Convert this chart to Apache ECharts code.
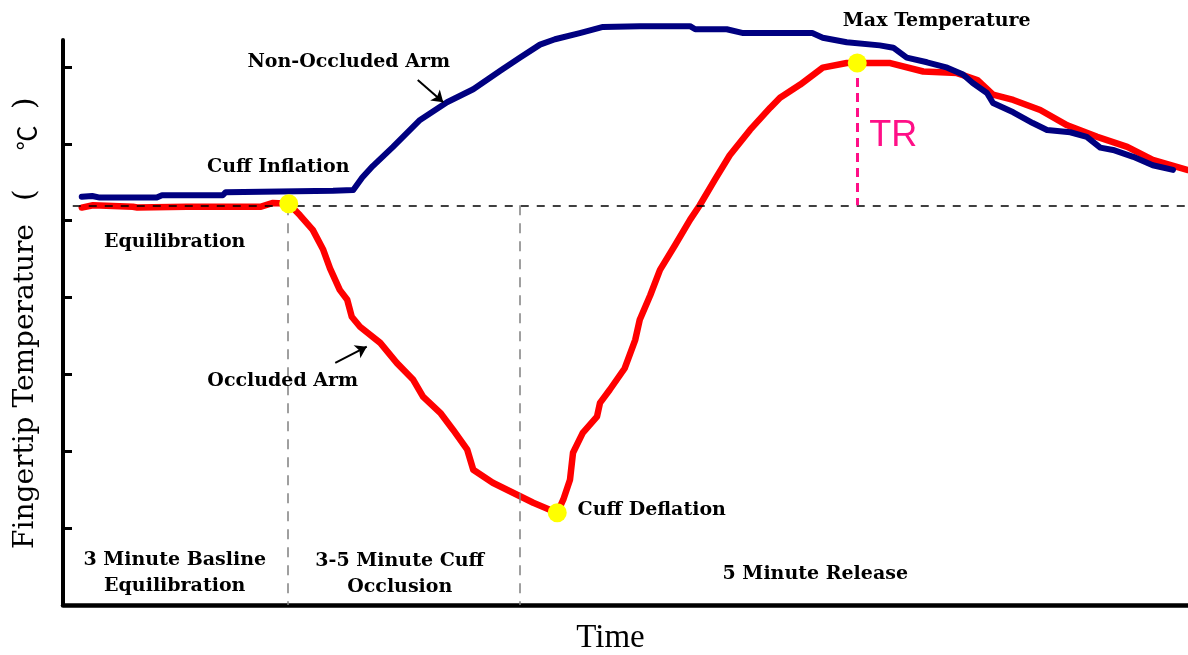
<!DOCTYPE html>
<html>
<head>
<meta charset="utf-8">
<script src="https://cdn.jsdelivr.net/npm/echarts@6.0.0/dist/echarts.min.js"></script>
<style>
  html, body { margin: 0; padding: 0; background: #fff; }
  #chart { width: 1188px; height: 655px; }
</style>
</head>
<body>
<div id="chart"></div>
<script>
// Fingertip temperature over time, [time, temperature] in relative units.
const nonOccludedArm = [
  [0.25,5.31],[0.39,5.32],[0.49,5.30],[1.25,5.30],[1.32,5.33],[2.13,5.33],[2.17,5.37],
  [3.60,5.39],[3.87,5.40],[3.99,5.56],[4.13,5.71],[4.40,5.96],[4.76,6.31],[5.12,6.54],
  [5.47,6.71],[5.83,6.95],[6.09,7.12],[6.36,7.29],[6.56,7.36],[6.89,7.44],[7.20,7.52],
  [7.69,7.53],[8.36,7.53],[8.43,7.49],[8.85,7.49],[9.07,7.44],[9.99,7.44],[10.13,7.38],
  [10.45,7.32],[10.89,7.28],[11.07,7.25],[11.25,7.12],[11.52,7.06],[11.79,6.99],[12.00,6.90],
  [12.13,6.79],[12.32,6.66],[12.40,6.53],[12.67,6.41],[12.93,6.27],[13.12,6.18],[13.43,6.15],
  [13.65,6.09],[13.83,5.95],[14.00,5.92],[14.27,5.83],[14.53,5.72],[14.80,5.66]
];

const occludedArm = [
  [0.25,5.17],[0.40,5.20],[0.93,5.18],[0.99,5.17],[1.65,5.18],[2.63,5.18],[2.80,5.23],
  [3.01,5.22],[3.16,5.07],[3.33,4.88],[3.47,4.62],[3.56,4.38],[3.69,4.10],[3.79,3.97],
  [3.85,3.75],[3.96,3.62],[4.23,3.41],[4.45,3.15],[4.67,2.93],[4.80,2.71],[5.03,2.50],
  [5.20,2.28],[5.39,2.02],[5.47,1.76],[5.73,1.59],[6.00,1.46],[6.27,1.33],[6.49,1.24],
  [6.59,1.20],[6.67,1.37],[6.76,1.63],[6.80,1.98],[6.93,2.24],[7.12,2.45],[7.16,2.63],
  [7.29,2.80],[7.49,3.08],[7.63,3.45],[7.69,3.71],[7.83,4.03],[7.96,4.36],[8.16,4.68],
  [8.36,5.01],[8.49,5.20],[8.69,5.53],[8.89,5.85],[9.16,6.18],[9.43,6.47],[9.56,6.60],
  [9.83,6.77],[10.13,6.99],[10.45,7.05],[10.59,7.05],[11.03,7.05],[11.47,6.94],[11.92,6.92],
  [12.19,6.83],[12.40,6.64],[12.67,6.57],[13.03,6.44],[13.39,6.24],[13.79,6.09],[14.19,5.96],
  [14.53,5.79],[14.99,5.66]
];

// Event indices on the occluded-arm trace
const cuffInflationIdx = 7;
const cuffDeflationIdx = 28;
const maxTemperatureIdx = 52;

const baselineTemp = 5.2;            // equilibrium temperature
const phaseBoundaries = [3.0, 6.09]; // end of baseline, end of occlusion
const timeRange = [0, 15];
const tempRange = [0, 7.35];
const tempTicks = [1, 2, 3, 4, 5, 6, 7];

// Text callouts anchored in chart coordinates
const callouts = [
  { text: 'Non-Occluded Arm', at: [3.81, 7.06] },
  { text: 'Cuff Inflation', at: [2.87, 5.70] },
  { text: 'Equilibration', at: [1.49, 4.72] },
  { text: 'Occluded Arm', at: [2.93, 2.91] },
  { text: 'Cuff Deflation', at: [7.85, 1.24] },
  { text: 'Max Temperature', at: [11.65, 7.60] },
  { text: '3 Minute Basline\nEquilibration', at: [1.49, 0.42] },
  { text: '3-5 Minute Cuff\nOcclusion', at: [4.49, 0.40] },
  { text: '5 Minute Release', at: [10.03, 0.40] }
];
const trLabel = { text: 'TR', at: [11.07, 6.10] };

// Pointer arrows: [from, to]
const arrows = [
  [[4.73, 6.83], [5.07, 6.54]],
  [[3.63, 3.15], [4.05, 3.36]]
];

const keyPoints = [cuffInflationIdx, cuffDeflationIdx, maxTemperatureIdx].map(i => occludedArm[i]);
const peak = occludedArm[maxTemperatureIdx];

const serifBold = {
  fontFamily: 'DejaVu Serif', fontWeight: 'bold', fontSize: 19, color: '#000',
  lineHeight: 26, textBorderWidth: 0
};

const chart = echarts.init(document.getElementById('chart'), null, { renderer: 'canvas' });
chart.setOption({
  animation: false,
  backgroundColor: '#fff',
  grid: { left: 63, right: 0, top: 40, bottom: 50, containLabel: false, outerBoundsMode: 'none' },
  xAxis: {
    type: 'value', min: timeRange[0], max: timeRange[1],
    name: 'Time', nameLocation: 'middle', nameGap: 17,
    nameTextStyle: { fontFamily: 'Liberation Serif', fontSize: 33, color: '#000', padding: [0, 30, 0, 0] },
    axisLine: { show: true, onZero: false, lineStyle: { color: '#000', width: 4.5 } },
    axisTick: { show: false }, axisLabel: { show: false }, splitLine: { show: false }
  },
  yAxis: {
    type: 'value', min: tempRange[0], max: tempRange[1],
    name: '{a|Fingertip Temperature}{p|(}{c|℃}{q|)}', nameLocation: 'middle', nameGap: 22,
    nameTextStyle: {
      color: '#000',
      rich: {
        a: { fontFamily: 'DejaVu Serif', fontSize: 28, color: '#000' },
        p: { fontFamily: 'DejaVu Serif', fontSize: 30, color: '#000', width: 58, align: 'center' },
        c: { fontFamily: 'Noto Sans CJK SC', fontSize: 25, color: '#000', width: 56, align: 'center' },
        q: { fontFamily: 'DejaVu Serif', fontSize: 30, color: '#000', width: 14, align: 'center' }
      }
    },
    axisLine: { show: true, onZero: false, lineStyle: { color: '#000', width: 4 } },
    axisTick: { show: true, inside: true, length: 9, customValues: tempTicks, lineStyle: { color: '#000', width: 3 } },
    axisLabel: { show: false }, splitLine: { show: false }
  },
  series: [
    {
      // guide lines: baseline, phase boundaries, temperature rise
      type: 'line', data: [], z: 1, silent: true,
      markLine: {
        silent: true, symbol: ['none', 'none'], label: { show: false },
        data: [
          [{ coord: [0.13, baselineTemp], lineStyle: { color: '#000', width: 1.5, type: [8, 8] } },
           { coord: [timeRange[1], baselineTemp] }],
          [{ coord: [phaseBoundaries[0], baselineTemp], lineStyle: { color: '#808080', width: 1.5, type: [10, 8] } },
           { coord: [phaseBoundaries[0], 0] }],
          [{ coord: [phaseBoundaries[1], baselineTemp], lineStyle: { color: '#808080', width: 1.5, type: [10, 8] } },
           { coord: [phaseBoundaries[1], 0] }],
          [{ coord: [peak[0], peak[1]], lineStyle: { color: '#ff0f87', width: 3, type: [9, 6] } },
           { coord: [peak[0], baselineTemp] }]
        ]
      }
    },
    {
      name: 'Occluded Arm', type: 'line', data: occludedArm, z: 3, clip: false,
      showSymbol: false, smooth: false,
      lineStyle: { color: '#ff0000', width: 6.5, join: 'round', cap: 'round' }
    },
    {
      name: 'Non-Occluded Arm', type: 'line', data: nonOccludedArm, z: 4, clip: false,
      showSymbol: false, smooth: false,
      lineStyle: { color: '#000080', width: 6, join: 'round', cap: 'round' }
    },
    {
      name: 'Events', type: 'scatter', data: keyPoints, z: 5, clip: false,
      symbol: 'circle', symbolSize: 19, itemStyle: { color: '#ffff00', opacity: 1 }
    },
    {
      type: 'scatter', z: 6, clip: false, symbolSize: 0, silent: true,
      itemStyle: { opacity: 1 },
      data: callouts.map(c => ({ name: c.text, value: c.at })),
      label: { show: true, position: 'inside', formatter: '{b}', align: 'center', verticalAlign: 'middle', ...serifBold },
      markLine: {
        silent: true, symbol: ['none', 'arrow'], symbolSize: 11, label: { show: false },
        lineStyle: { color: '#000', width: 2, type: 'solid', opacity: 1 },
        data: arrows.map(a => [{ coord: a[0] }, { coord: a[1] }])
      }
    },
    {
      type: 'scatter', z: 6, clip: false, symbolSize: 0, silent: true,
      itemStyle: { opacity: 1 },
      data: [{ name: trLabel.text, value: trLabel.at }],
      label: { show: true, position: 'inside', formatter: '{b}', fontFamily: 'Liberation Sans', fontSize: 36, color: '#ff0f87', textBorderWidth: 0 }
    }
  ]
});
</script>
</body>
</html>
